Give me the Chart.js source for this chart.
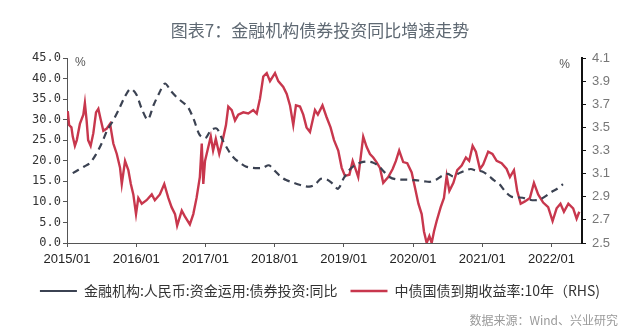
<!DOCTYPE html>
<html>
<head>
<meta charset="utf-8">
<script src="https://cdn.jsdelivr.net/npm/chart.js@4.4.0/dist/chart.umd.min.js"></script>
<style>
body { margin:0; width:640px; height:334px; background:#fff; overflow:hidden; position:relative; font-family:"Noto Sans CJK SC"; }
#wrap { position:absolute; left:0; top:0; width:640px; height:334px; }
#title { position:absolute; left:0; top:18px; width:640px; text-align:center; font-size:17px; line-height:24px; color:#5f6973; }
#source { position:absolute; right:22px; top:311px; font-size:12px; line-height:18px; color:#9a9a9a; }
</style>
</head>
<body>
<div id="wrap"><canvas id="chart"></canvas></div>
<div id="title">图表7：金融机构债券投资同比增速走势</div>
<div id="source">数据来源：Wind、兴业研究</div>
<script>
// ----------------------------------------------------------------------
//	bond investment yoy vs 10y CGB yield
// ----------------------------------------------------------------------
const xTickLabels = ["2015/01","2016/01","2017/01","2018/01","2019/01","2020/01","2021/01","2022/01"]
const leftTicks = [0,5,10,15,20,25,30,35,40,45]
const rightTicks = [2.5,2.7,2.9,3.1,3.3,3.5,3.7,3.9,4.1]

const bondName = "金融机构:人民币:资金运用:债券投资:同比"
const bondStart = "2015-02"
const bondYoY = [
	17.0,17.8,18.6,19.5,21.5,24.2,27.5,29.8,32.5,35.5,37.5,
	36.2,32.5,30.0,33.5,36.5,38.8,37.0,35.5,34.3,33.0,30.0,26.3,
	25.5,27.5,27.8,25.0,22.5,20.6,19.5,18.6,18.3,18.2,18.3,18.9,
	17.6,16.2,15.3,14.8,14.3,13.9,13.7,14.2,15.6,15.5,14.5,13.2,
	15.8,17.8,19.0,19.6,19.8,19.6,18.8,17.3,16.0,15.5,15.4,15.4,
	15.3,15.2,15.0,14.9,15.4,16.3,16.8,16.2,17.0,17.6,18.0,17.6,
	17.4,16.5,15.3,14.3,12.5,11.3,11.1,11.0,10.6,10.4,10.6,11.4,
	12.4,13.2,14.3
	]

const yieldName = "中债国债到期收益率:10年（RHS)"
const yieldDates = [
	"2015-01-05","2015-01-12","2015-01-24","2015-02-01","2015-02-12","2015-02-22","2015-03-08","2015-03-26","2015-04-04","2015-04-13",
	"2015-04-21","2015-05-04","2015-05-18","2015-06-02","2015-06-14","2015-06-26","2015-07-10","2015-07-28","2015-08-15","2015-09-02",
	"2015-09-20","2015-10-07","2015-10-16","2015-11-03","2015-11-20","2015-12-03","2015-12-16","2015-12-30","2016-01-12","2016-01-30",
	"2016-02-25","2016-03-22","2016-04-08","2016-05-04","2016-05-27","2016-06-18","2016-07-05","2016-07-23","2016-08-04","2016-08-28",
	"2016-09-14","2016-10-10","2016-10-28","2016-11-15","2016-12-02","2016-12-12","2016-12-20","2016-12-29","2017-01-16","2017-01-29",
	"2017-02-11","2017-02-25","2017-03-13","2017-04-01","2017-04-18","2017-04-30","2017-05-18","2017-06-05","2017-06-22","2017-07-18",
	"2017-08-14","2017-09-10","2017-09-28","2017-10-15","2017-11-02","2017-11-20","2017-12-07","2018-01-03","2018-01-20","2018-02-16",
	"2018-03-04","2018-03-21","2018-04-08","2018-04-22","2018-05-13","2018-05-30","2018-06-17","2018-07-05","2018-08-01","2018-08-16",
	"2018-09-10","2018-10-01","2018-10-22","2018-11-10","2018-12-02","2018-12-20","2019-01-07","2019-01-30","2019-02-17","2019-03-04",
	"2019-03-16","2019-04-12","2019-04-30","2019-05-17","2019-06-04","2019-06-21","2019-07-09","2019-07-26","2019-08-22","2019-09-15",
	"2019-10-02","2019-10-19","2019-11-10","2019-12-01","2019-12-24","2020-01-11","2020-01-29","2020-02-16","2020-02-28","2020-03-12",
	"2020-03-26","2020-04-08","2020-04-20","2020-05-04","2020-05-25","2020-06-12","2020-06-26","2020-07-10","2020-07-31","2020-08-21",
	"2020-09-14","2020-10-06","2020-10-23","2020-11-11","2020-11-28","2020-12-19","2021-01-06","2021-02-02","2021-02-24","2021-03-16",
	"2021-04-12","2021-05-08","2021-05-25","2021-06-16","2021-07-03","2021-07-21","2021-08-13","2021-09-09","2021-09-30","2021-10-22",
	"2021-11-18","2021-12-14","2022-01-07","2022-01-28","2022-02-18","2022-03-06","2022-03-29","2022-04-24","2022-05-12","2022-05-26"
	]
const yieldValues = [
	3.64,3.52,3.50,3.42,3.34,3.39,3.53,3.61,3.71,3.56,
	3.39,3.34,3.45,3.63,3.66,3.57,3.47,3.49,3.53,3.36,
	3.27,3.15,3.01,3.21,3.13,3.01,2.92,2.75,2.89,2.84,
	2.87,2.92,2.87,2.92,3.01,2.89,2.81,2.75,2.65,2.78,
	2.73,2.66,2.75,2.89,3.07,3.36,3.01,3.21,3.33,3.42,
	3.30,3.40,3.27,3.39,3.52,3.68,3.65,3.56,3.61,3.63,
	3.62,3.65,3.62,3.75,3.94,3.97,3.90,3.97,3.90,3.85,
	3.79,3.69,3.52,3.69,3.68,3.61,3.50,3.46,3.65,3.61,
	3.69,3.59,3.50,3.39,3.30,3.15,3.08,3.09,3.21,3.13,
	3.07,3.42,3.33,3.27,3.24,3.20,3.15,3.02,3.07,3.14,
	3.21,3.30,3.20,3.19,3.11,2.98,2.84,2.75,2.60,2.50,
	2.56,2.50,2.60,2.69,2.81,2.89,3.08,2.95,3.02,3.13,
	3.17,3.24,3.21,3.34,3.29,3.14,3.18,3.29,3.27,3.21,
	3.19,3.14,3.07,3.13,2.95,2.84,2.86,2.89,3.02,2.92,
	2.85,2.81,2.69,2.80,2.84,2.77,2.84,2.80,2.71,2.77
	]

// ----------------------------------------------------------------------
function month_index(str)
{
	const parts = str.split("-").map(Number)
	const day = parts.length > 2 ? parts[2] : 1
	return (parts[0] - 2015) * 12 + (parts[1] - 1) + (day - 1) / 30
}

// ----------------------------------------------------------------------
function build_data()
{
	const start = month_index(bondStart)
	const bond_points = bondYoY.map((v, i) => ({x: start + i, y: v}))
	const yield_points = yieldValues.map((v, i) => ({x: month_index(yieldDates[i]), y: v}))

	return {
		datasets: [
			{
			label: bondName,
			data: bond_points,
			yAxisID: "y",
			borderColor: "#3b4252",
			backgroundColor: "#3b4252",
			borderWidth: 2.2,
			borderDash: [7,5],
			pointRadius: 0,
			tension: 0.3
			},
			{
			label: yieldName,
			data: yield_points,
			yAxisID: "y1",
			borderColor: "#c8374d",
			backgroundColor: "#c8374d",
			borderWidth: 2.4,
			pointRadius: 0,
			tension: 0
			}
		]
	}
}

// ----------------------------------------------------------------------
const percentMarks = {
	id: "percentMarks",
	afterDraw(chart)
		{
		const ctx = chart.ctx
		const area = chart.chartArea
		ctx.save()
		ctx.font = '12px "Liberation Sans"'
		ctx.fillStyle = "#555"
		ctx.textBaseline = "middle"
		ctx.textAlign = "left"
		ctx.fillText("%", area.left + 8, area.top + 5)
		ctx.textAlign = "right"
		ctx.fillText("%", area.right - 12, area.top + 7)
		ctx.restore()
		}
	}

// ----------------------------------------------------------------------
const config = {
	type: "line",
	data: build_data(),
	plugins: [percentMarks],
	options: {
		responsive: true,
		maintainAspectRatio: false,
		animation: false,
		layout: { padding: { top: 58, bottom: 26, left: 0, right: 0 } },
		plugins: {
			title: { display: false },
			tooltip: { enabled: false },
			legend: {
				position: "bottom",
				labels: {
					usePointStyle: true,
					pointStyle: "line",
					pointStyleWidth: 37,
					padding: 13,
					color: "#333",
					font: { family: "Noto Sans CJK SC", size: 14 }
					}
				}
			},
		scales: {
			x: {
				type: "linear",
				min: 0,
				max: 89.3,
				afterBuildTicks: s => { s.ticks = xTickLabels.map((t, i) => ({value: i * 12})) },
				afterFit: s => { s.height = 28 },
				ticks: {
					callback: (v, i) => xTickLabels[i],
					autoSkip: false,
					maxRotation: 0,
					padding: 5,
					color: "#222",
					font: { family: "Liberation Sans", size: 13 }
					},
				grid: { drawOnChartArea: false, tickLength: 4, color: "#555" },
				border: { color: "#555", width: 1 }
				},
			y: {
				position: "left",
				min: 0,
				max: 45,
				afterBuildTicks: s => { s.ticks = leftTicks.map(v => ({value: v})) },
				afterFit: s => { s.width = 67 },
				ticks: {
					callback: v => v.toFixed(1),
					padding: 2,
					color: "#333",
					font: { family: "DejaVu Sans Mono", size: 12 }
					},
				grid: { drawOnChartArea: false, tickLength: 4, color: "#555" },
				border: { color: "#555", width: 1 }
				},
			y1: {
				position: "right",
				min: 2.5,
				max: 4.1,
				afterBuildTicks: s => { s.ticks = rightTicks.map(v => ({value: v})) },
				afterFit: s => { s.width = 58 },
				ticks: {
					callback: v => v.toFixed(1),
					padding: 6,
					color: "#777",
					font: { family: "Liberation Sans", size: 13 }
					},
				grid: { drawOnChartArea: false, tickLength: 4, color: "#111" },
				border: { color: "#111", width: 2 }
				}
			}
		}
	}

const chart = new Chart(document.getElementById("chart"), config)
</script>
</body>
</html>
